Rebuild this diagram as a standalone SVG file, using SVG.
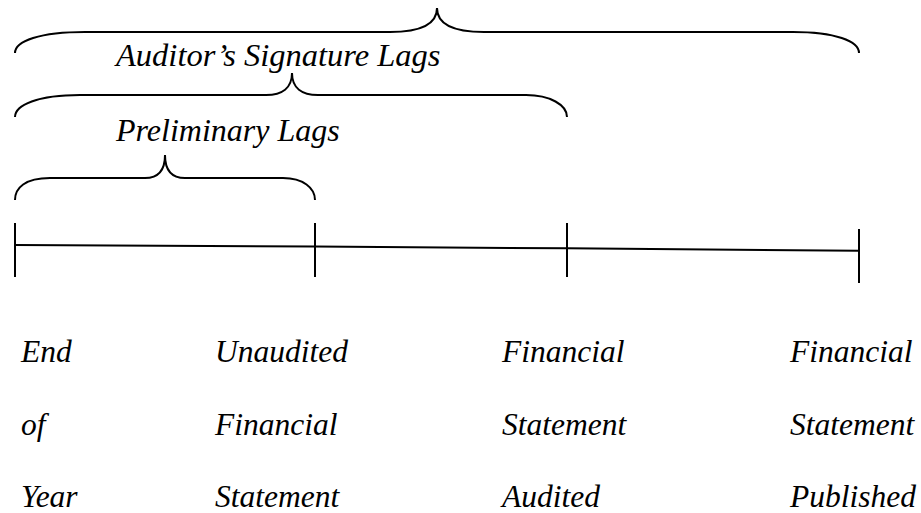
<svg xmlns="http://www.w3.org/2000/svg" width="921" height="513" viewBox="0 0 921 513">
<style>
text{font-family:'Liberation Serif','Times New Roman',serif;font-style:italic;font-size:31.5px;fill:#000}
.b{fill:none;stroke:#000;stroke-width:2}
.l{stroke:#000;stroke-width:2;fill:none}
</style>
<rect width="921" height="513" fill="#fff"/>
<g id="brace-total">
<path class="b" d="M15,53 C15,41 40,32 85,32 L390,32 C418,32 437,26 437,8 C437,26 456,32 484,32 L793,32 C835,32 859,41 859,53"/>
</g>
<g id="brace-auditor">
<path class="b" d="M15,117 C15,105 38,95 80,95 L266,95 C282,95 292,88 292,73 C292,88 302,95 318,95 L526,95 C550,95 567,105 567,117"/>
<text x="116" y="66" style="font-size:32.5px">Auditor’s Signature Lags</text>
</g>
<g id="brace-preliminary">
<path class="b" d="M15,200 C15,188 25,178 50,178 L145,178 C158,178 165,170 165,155 C165,170 172,178 185,178 L283,178 C303,178 315,188 315,200"/>
<text x="116" y="141" style="font-size:32px">Preliminary Lags</text>
</g>
<g id="connectors">
<path class="l" d="M15,245 L315,246.5 L567,248.3 L859,250.8"/>
<line class="l" x1="15" y1="223" x2="15" y2="277"/>
<line class="l" x1="315" y1="223" x2="315" y2="277"/>
<line class="l" x1="567" y1="223" x2="567" y2="277"/>
<line class="l" x1="859" y1="229" x2="859" y2="283"/>
</g>
<g id="node-end-of-year">
<text x="21" y="362">End</text>
<text x="21" y="435">of</text>
<text x="21" y="507">Year</text>
</g>
<g id="node-unaudited">
<text x="215" y="362">Unaudited</text>
<text x="215" y="435">Financial</text>
<text x="215" y="507">Statement</text>
</g>
<g id="node-audited">
<text x="502" y="362">Financial</text>
<text x="502" y="435">Statement</text>
<text x="502" y="507">Audited</text>
</g>
<g id="node-published">
<text x="790" y="362">Financial</text>
<text x="790" y="435">Statement</text>
<text x="790" y="507">Published</text>
</g>
</svg>
